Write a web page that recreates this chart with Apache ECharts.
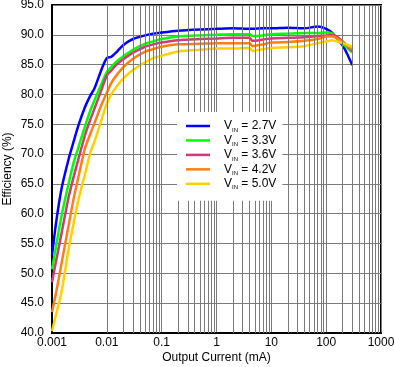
<!DOCTYPE html>
<html>
<head>
<meta charset="utf-8">
<script src="https://cdn.jsdelivr.net/npm/echarts@6/dist/echarts.min.js"></script>
<style>
html,body{margin:0;padding:0;background:#fff;}
#c{width:394px;height:367px;}
</style>
</head>
<body>
<div id="c"></div>
<script>
// Output current (mA)
var currents = [0.001,0.0012,0.0015,0.002,0.0025,0.003,0.004,0.005,0.006,0.008,0.01,0.012,0.015,0.02,0.03,0.05,0.07,0.1,0.2,0.5,1,2,4,4.5,7,10,20,40,70,100,130,200,250,300];
// Efficiency (%) per input voltage
var eff27 = [53.0,58.8,64.3,69.1,72.2,74.7,77.9,79.8,81.1,84.2,86.1,86.3,87.1,88.3,89.3,89.9,90.2,90.4,90.7,90.9,91.0,91.1,91.0,91.0,91.1,91.1,91.2,91.1,91.4,91.0,90.3,88.2,86.5,84.9];
var eff33 = [50.7,54.8,59.8,65.0,68.7,71.0,74.7,77.3,79.1,81.8,83.8,84.6,85.5,86.4,87.5,88.5,88.9,89.3,89.7,89.9,90.0,90.1,90.1,89.8,89.9,90.1,90.2,90.3,90.3,90.4,90.2,88.5,87.7,87.0];
var eff36 = [48.5,52.3,56.8,62.7,66.3,69.0,73.2,75.8,77.7,80.8,83.2,84.0,85.0,85.9,87.0,88.0,88.4,88.7,89.1,89.3,89.4,89.5,89.5,89.0,89.2,89.4,89.5,89.6,89.8,89.9,90.0,88.9,88.0,87.3];
var eff42 = [43.5,47.0,51.8,58.0,62.7,66.0,71.0,73.4,75.3,78.3,80.3,81.9,83.2,84.6,86.0,87.2,87.6,88.0,88.4,88.5,88.6,88.6,88.6,88.1,88.4,88.7,88.8,89.0,89.3,89.7,89.7,88.8,88.1,87.6];
var eff50 = [40.3,43.3,47.0,54.0,58.6,62.2,66.7,70.3,72.2,75.8,78.5,80.0,81.3,82.7,84.1,85.4,86.1,86.5,87.2,87.5,87.7,87.7,87.8,87.3,87.6,87.8,87.9,88.1,88.6,88.9,89.1,88.6,88.3,88.0];
var vinLabels = ['2.7V','3.3V','3.6V','4.2V','5.0V'];
var xTickLabels = ['0.001','0.01','0.1','1','10','100','1000'];
var minorGridValues = [];
[0.001,0.01,0.1,1,10,100].forEach(function(d){for(var k=2;k<=9;k++){minorGridValues.push(+(d*k).toPrecision(3));}});

var colors = ['#0000ff','#00ff00','#d03a78','#ff7f0e','#ffd000'];
var effs = [eff27,eff33,eff36,eff42,eff50];
var FONT = '"Liberation Sans", Arial, sans-serif';

function pairs(ys){return currents.map(function(x,i){return [x, ys[i]];});}

var series = [{
  name: 'minor',
  type: 'line',
  data: [],
  z: 1,
  silent: true,
  markLine: {
    silent: true,
    symbol: 'none',
    animation: false,
    label: {show: false},
    lineStyle: {color: '#7a7a7a', width: 1, type: 'solid'},
    data: minorGridValues.map(function(v){return {xAxis: v};})
  }
}];
vinLabels.forEach(function(v, i){
  series.push({
    name: v,
    type: 'line',
    data: pairs(effs[i]),
    showSymbol: false,
    symbol: 'none',
    smooth: 0.25,
    z: 3,
    lineStyle: {color: colors[i], width: 2.5},
    itemStyle: {color: colors[i]}
  });
});

var chart = echarts.init(document.getElementById('c'), null, {renderer: 'canvas'});
chart.setOption({
  animation: false,
  backgroundColor: '#fff',
  textStyle: {fontFamily: FONT},
  grid: {left: 52, right: 13, top: 5, bottom: 34, outerBoundsMode: 'none', containLabel: false, show: true, borderColor: '#000', borderWidth: 2, backgroundColor: 'transparent'},
  legend: {
    data: vinLabels.map(function(v){return {name: v, icon: 'rect'};}),
    orient: 'vertical',
    left: 177,
    top: 112,
    z: 20,
    padding: [8, 6, 10, 9],
    backgroundColor: '#ffffff',
    borderWidth: 0,
    itemWidth: 24,
    itemHeight: 2.5,
    itemGap: 1.45,
    selectedMode: false,
    formatter: function(name){return '{v|V}{s|IN}{v| = ' + name + '}';},
    textStyle: {
      fontFamily: FONT, fontSize: 12, color: '#000', padding: [0,0,0,9],
      rich: {
        v: {fontFamily: FONT, fontSize: 12, color: '#000', lineHeight: 14, verticalAlign: 'middle'},
        s: {fontFamily: FONT, fontSize: 6, color: '#000', lineHeight: 8, verticalAlign: 'bottom'}
      }
    }
  },
  xAxis: {
    type: 'log',
    logBase: 10,
    min: 0.001,
    max: 1000,
    name: 'Output Current (mA)',
    nameLocation: 'middle',
    nameGap: 19,
    nameMoveOverlap: false,
    nameTextStyle: {fontFamily: FONT, fontSize: 12, color: '#000'},
    axisLine: {show: true, onZero: false, lineStyle: {color: '#000', width: 2}},
    axisTick: {show: false},
    axisLabel: {
      fontFamily: FONT, fontSize: 12, color: '#000', margin: 4,
      formatter: function(v, i){return xTickLabels[i];}
    },
    splitLine: {show: true, lineStyle: {color: '#7a7a7a', width: 1}}
  },
  yAxis: {
    type: 'value',
    min: 40,
    max: 95,
    interval: 5,
    name: 'Efficiency (%)',
    nameLocation: 'middle',
    nameGap: 38,
    nameMoveOverlap: false,
    nameTextStyle: {fontFamily: FONT, fontSize: 12, color: '#000'},
    axisLine: {show: true, onZero: false, lineStyle: {color: '#000', width: 2}},
    axisTick: {show: false},
    axisLabel: {
      fontFamily: FONT, fontSize: 12, color: '#000', margin: 8,
      formatter: function(v){return v.toFixed(1);}
    },
    splitLine: {show: true, lineStyle: {color: '#7a7a7a', width: 1}}
  },
  series: series
});
</script>
</body>
</html>
